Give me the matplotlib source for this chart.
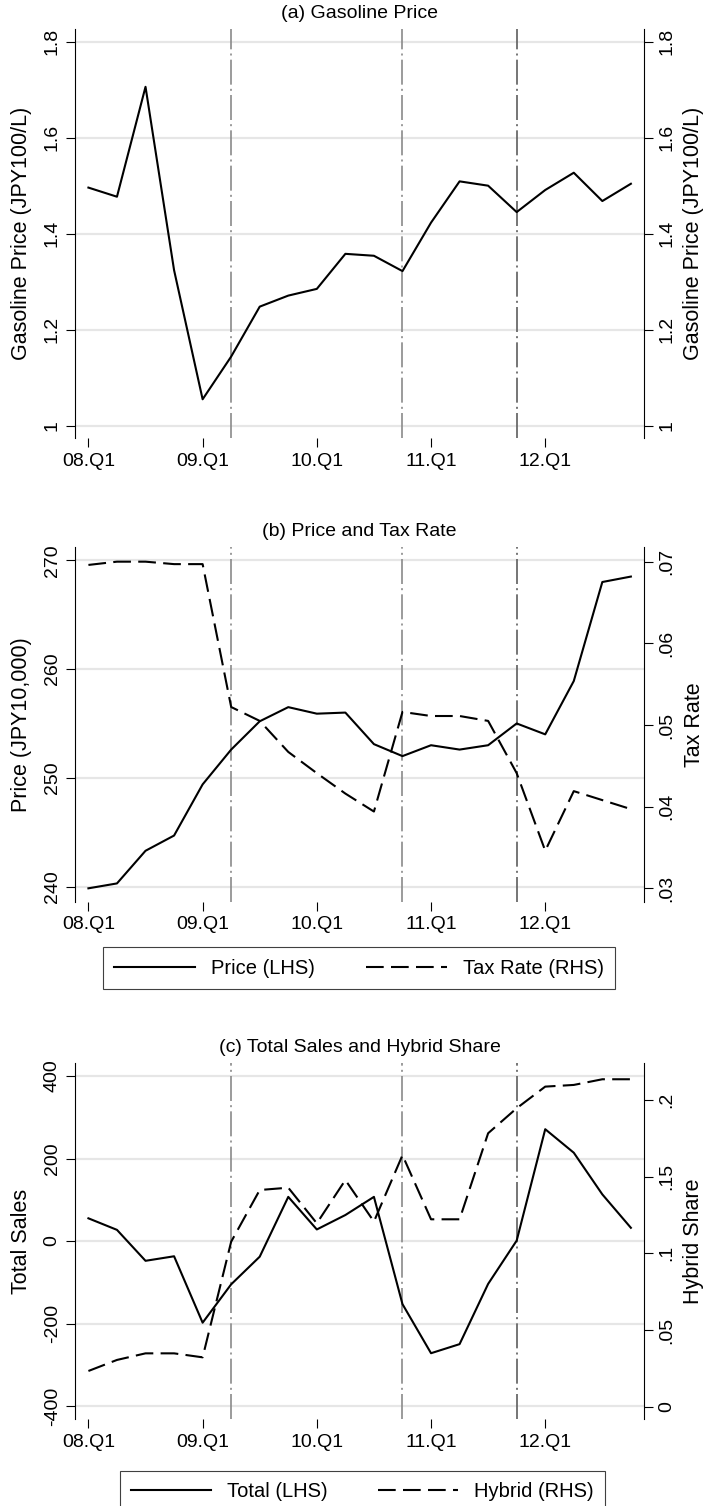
import numpy as np
import matplotlib
matplotlib.use('Agg')
import matplotlib.pyplot as plt

#*-*-*-*-*-*-*-*-*-*-*-*-*-*-*- DATA *-*-*-*-*-*-*-*-*-*-*-*-*-*-*-*-*-*-*-*-*-
quarters = [f'{y:02d}.Q{q}' for y in range(8, 13) for q in range(1, 5)]
tick_quarters = ['08.Q1', '09.Q1', '10.Q1', '11.Q1', '12.Q1']
event_quarters = ['09.Q2', '10.Q4', '11.Q4']

gas_price = [1.496, 1.477, 1.706, 1.324, 1.055, 1.144, 1.248, 1.271, 1.285, 1.358,
             1.354, 1.322, 1.423, 1.509, 1.500, 1.445, 1.491, 1.527, 1.468, 1.504]

car_price = [239.85, 240.3, 243.3, 244.7, 249.4, 252.6, 255.2, 256.5, 255.9, 256.0,
             253.1, 252.0, 253.0, 252.6, 253.0, 255.0, 254.0, 258.9, 268.0, 268.5]

tax_rate = [0.0696, 0.0700, 0.0700, 0.0697, 0.0697, 0.0522, 0.0505, 0.0467, 0.0441, 0.0416,
            0.0394, 0.0516, 0.0511, 0.0511, 0.0505, 0.0441, 0.0346, 0.0419, 0.0408, 0.0397]

total_sales = [55, 27, -48, -37, -198, -105, -38, 107, 28, 63,
               107, -153, -272, -250, -104, 1, 271, 214, 113, 32]

hybrid_share = [0.0233, 0.0305, 0.0348, 0.0348, 0.0322, 0.1076, 0.1413, 0.1428, 0.1196, 0.1478,
                0.1207, 0.164, 0.1222, 0.1222, 0.1783, 0.1946, 0.2087, 0.2098, 0.2135, 0.2135]

#*-*-*-*-*-*-*-*-*-*-*-*-*-*-*- SETUP *-*-*-*-*-*-*-*-*-*-*-*-*-*-*-*-*-*-*-*-*-
plt.rcParams['font.family'] = ['Liberation Sans', 'DejaVu Sans']
W, H = 707, 1506
x = np.arange(len(quarters))
xt = [quarters.index(q) for q in tick_quarters]
ev = [quarters.index(q) for q in event_quarters]
ev_colors = ['#8a8a8a', '#8a8a8a', '#5e5e5e']
dashdot = (0, (15, 2.5, 1.2, 2.5))
dashed = (0, (8.5, 3.5))
TICK_FS, LAB_FS, TITLE_FS, LEG_FS = 14, 15.5, 14, 14.5

fig = plt.figure(figsize=(W / 100, H / 100), dpi=100)


def box(l, t, r, b):
    return [l / W, 1 - b / H, (r - l) / W, (b - t) / H]


def style_axis(ax, side):
    for s in ['top', 'left', 'right', 'bottom']:
        ax.spines[s].set_visible(False)
    ax.spines[side].set_visible(True)
    ax.spines[side].set_linewidth(0.8)
    ax.tick_params(axis='y', length=6.3, width=0.8, pad=4, labelsize=TICK_FS, labelrotation=90)
    plt.setp(ax.get_yticklabels(), va='center')


def panel(l, t, r, b, title, ylab_l, ylab_r):
    ax = fig.add_axes(box(l, t, r, b))
    ax2 = ax.twinx()
    ax.set_xlim(-0.47, 19.47)
    ax.set_xticks(xt)
    ax.set_xticklabels(tick_quarters)
    ax.tick_params(axis='x', length=6.3, width=0.8, pad=4, labelsize=TICK_FS)
    ax.spines['bottom'].set_linewidth(0.8)
    ax.grid(axis='y', color='#e6e6e6', lw=1.6)
    ax.set_axisbelow(True)
    for e, c in zip(ev, ev_colors):
        ax.axvline(e, color=c, lw=1.2, ls=dashdot, zorder=1)
    fig.text((l + r) / 2 / W, 1 - (t - 16) / H, title, ha='center', va='center', fontsize=TITLE_FS)
    fig.text(22 / W, 1 - (t + b) / 2 / H, ylab_l, rotation=90, ha='center', va='center', fontsize=LAB_FS)
    fig.text(694 / W, 1 - (t + b) / 2 / H, ylab_r, rotation=90, ha='center', va='center', fontsize=LAB_FS)
    return ax, ax2


#*-*-*-*-*-*-*-*-*-*-*-*-*-*-*- (a) Gasoline price *-*-*-*-*-*-*-*-*-*-*-*-*-*-
axa, axa2 = panel(75, 29.3, 644.3, 438.3, '(a) Gasoline Price',
                  'Gasoline Price (JPY100/L)', 'Gasoline Price (JPY100/L)')
axa.plot(x, gas_price, color='black', lw=1.5, zorder=3)
for a in (axa, axa2):
    a.set_ylim(0.9737, 1.8258)
    a.set_yticks([1, 1.2, 1.4, 1.6, 1.8])
    a.set_yticklabels(['1', '1.2', '1.4', '1.6', '1.8'])
style_axis(axa, 'left')
style_axis(axa2, 'right')

#*-*-*-*-*-*-*-*-*-*-*-*-*-*-*- (b) Price and tax rate *-*-*-*-*-*-*-*-*-*-*-*
axb, axb2 = panel(75, 547.3, 644.3, 901.7, '(b) Price and Tax Rate',
                  'Price (JPY10,000)', 'Tax Rate')
lp, = axb.plot(x, car_price, color='black', lw=1.5, zorder=3)
lt, = axb2.plot(x, tax_rate, color='black', lw=1.5, ls=dashed)
axb.set_ylim(238.62, 271.19)
axb.set_yticks([240, 250, 260, 270])
axb.set_yticklabels(['240', '250', '260', '270'])
axb2.set_ylim(0.02836, 0.07176)
axb2.set_yticks([0.03, 0.04, 0.05, 0.06, 0.07])
axb2.set_yticklabels(['.03', '.04', '.05', '.06', '.07'])
style_axis(axb, 'left')
style_axis(axb2, 'right')

#*-*-*-*-*-*-*-*-*-*-*-*-*-*-*- (c) Total sales and hybrid share *-*-*-*-*-*-*
axc, axc2 = panel(75, 1063, 644.3, 1419.3, '(c) Total Sales and Hybrid Share',
                  'Total Sales', 'Hybrid Share')
ls_, = axc.plot(x, total_sales, color='black', lw=1.5, zorder=3)
lh, = axc2.plot(x, hybrid_share, color='black', lw=1.5, ls=dashed)
axc.set_ylim(-432.2, 431.5)
axc.set_yticks([-400, -200, 0, 200, 400])
axc.set_yticklabels(['-400', '-200', '0', '200', '400'])
axc2.set_ylim(-0.0082, 0.2241)
axc2.set_yticks([0, 0.05, 0.1, 0.15, 0.2])
axc2.set_yticklabels(['0', '.05', '.1', '.15', '.2'])
style_axis(axc, 'left')
style_axis(axc2, 'right')

#*-*-*-*-*-*-*-*-*-*-*-*-*-*-*- Legends *-*-*-*-*-*-*-*-*-*-*-*-*-*-*-*-*-*-*-*
def legend(handles, labels, l, t, r):
    lg = fig.legend(handles, labels, loc='upper left',
                    bbox_to_anchor=(l / W, 1 - t / H, (r - l) / W, 0.001),
                    bbox_transform=fig.transFigure, mode='expand', ncol=2,
                    frameon=True, fancybox=False, edgecolor='#404040', framealpha=1,
                    borderaxespad=0, handlelength=4.0, handletextpad=0.8,
                    fontsize=LEG_FS, borderpad=0.55)
    lg.get_frame().set_linewidth(0.8)
    return lg

legend([lp, lt], ['Price (LHS)', 'Tax Rate (RHS)'], 103, 949, 615)
legend([ls_, lh], ['Total (LHS)', 'Hybrid (RHS)'], 119.6, 1472.3, 605)

plt.savefig('out.png', dpi=100)
plt.close('all')
